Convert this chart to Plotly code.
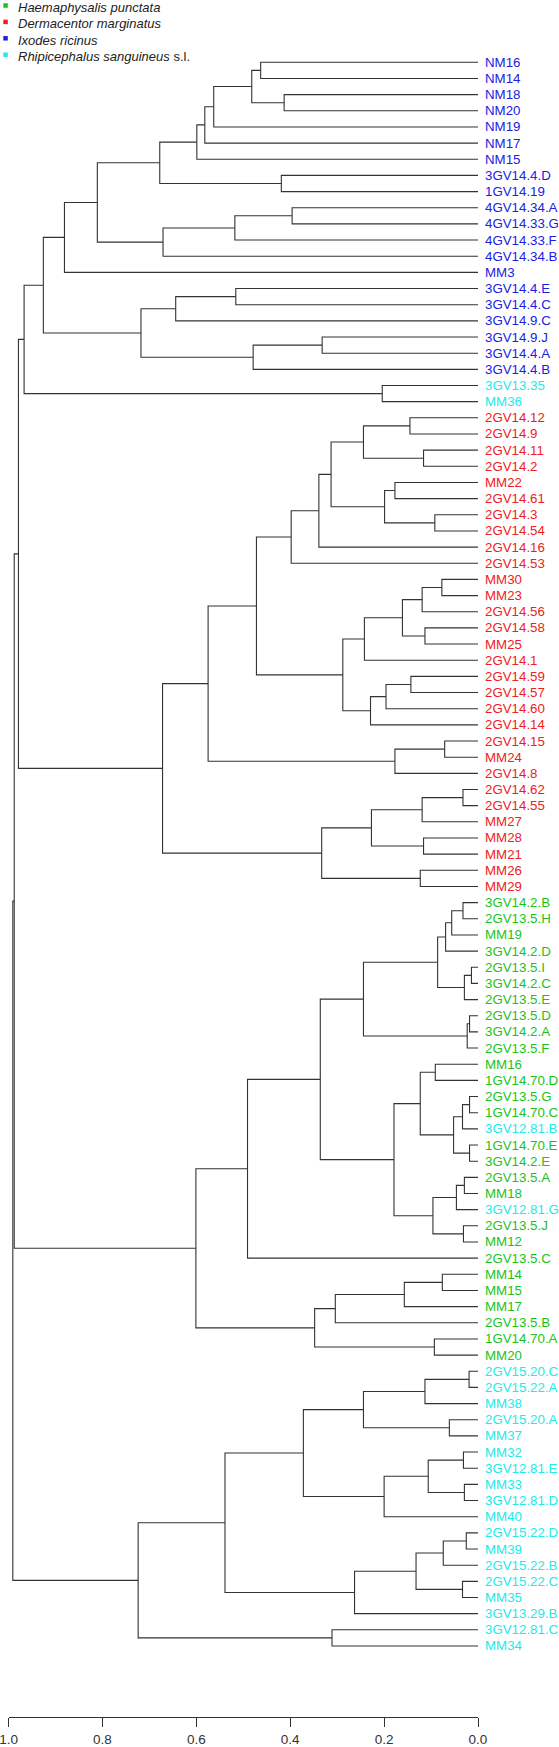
import plotly.graph_objects as go

# ---------------- data ----------------
leaf_order = [
    "NM16", "NM14", "NM18", "NM20", "NM19", "NM17", "NM15", "3GV14.4.D", "1GV14.19",
    "4GV14.34.A", "4GV14.33.G", "4GV14.33.F", "4GV14.34.B", "MM3", "3GV14.4.E", "3GV14.4.C",
    "3GV14.9.C", "3GV14.9.J", "3GV14.4.A", "3GV14.4.B", "3GV13.35", "MM36",
    "2GV14.12", "2GV14.9", "2GV14.11", "2GV14.2", "MM22", "2GV14.61", "2GV14.3", "2GV14.54",
    "2GV14.16", "2GV14.53", "MM30", "MM23", "2GV14.56", "2GV14.58", "MM25", "2GV14.1",
    "2GV14.59", "2GV14.57", "2GV14.60", "2GV14.14", "2GV14.15", "MM24", "2GV14.8",
    "2GV14.62", "2GV14.55", "MM27", "MM28", "MM21", "MM26", "MM29",
    "3GV14.2.B", "2GV13.5.H", "MM19", "3GV14.2.D", "2GV13.5.I", "3GV14.2.C", "2GV13.5.E",
    "2GV13.5.D", "3GV14.2.A", "2GV13.5.F", "MM16", "1GV14.70.D", "2GV13.5.G", "1GV14.70.C",
    "3GV12.81.B", "1GV14.70.E", "3GV14.2.E", "2GV13.5.A", "MM18", "3GV12.81.G", "2GV13.5.J",
    "MM12", "2GV13.5.C", "MM14", "MM15", "MM17", "2GV13.5.B", "1GV14.70.A", "MM20",
    "2GV15.20.C", "2GV15.22.A", "MM38", "2GV15.20.A", "MM37", "MM32", "3GV12.81.E", "MM33",
    "3GV12.81.D", "MM40", "2GV15.22.D", "MM39", "2GV15.22.B", "2GV15.22.C", "MM35",
    "3GV13.29.B", "3GV12.81.C", "MM34",
]

leaf_species = (
    ["I"] * 20 + ["R"] * 2 + ["D"] * 30
    + ["H"] * 14 + ["R"] + ["H"] * 4 + ["R"] + ["H"] * 9
    + ["R"] * 18
)

species_names = ["Haemaphysalis punctata", "Dermacentor marginatus",
                 "Ixodes ricinus", "Rhipicephalus sanguineus"]
species_codes = ["H", "D", "I", "R"]
species_suffix = ["", "", "", " s.l."]
species_colors = {"H": "#19c319", "D": "#f02020", "I": "#2020e0", "R": "#22eaea"}

# merges: (child_a, child_b, height); ints refer to earlier merges
merges = [
    ("NM16", "NM14", 0.463), ("NM18", "NM20", 0.413), (0, 1, 0.482), (2, "NM19", 0.563),
    (3, "NM17", 0.582), (4, "NM15", 0.599), ("3GV14.4.D", "1GV14.19", 0.419), (5, 6, 0.678),
    ("4GV14.34.A", "4GV14.33.G", 0.396), (8, "4GV14.33.F", 0.518), (9, "4GV14.34.B", 0.671),
    (7, 10, 0.811), (11, "MM3", 0.881), ("3GV14.4.E", "3GV14.4.C", 0.516),
    (13, "3GV14.9.C", 0.644), ("3GV14.9.J", "3GV14.4.A", 0.332), (15, "3GV14.4.B", 0.479),
    (14, 16, 0.718), (12, 17, 0.926), ("3GV13.35", "MM36", 0.204), (18, 19, 0.967),
    # 21
    ("2GV14.12", "2GV14.9", 0.145), ("2GV14.11", "2GV14.2", 0.116), (21, 22, 0.244),
    ("MM22", "2GV14.61", 0.177), ("2GV14.3", "2GV14.54", 0.092), (24, 25, 0.199),
    (23, 26, 0.313), (27, "2GV14.16", 0.339), (28, "2GV14.53", 0.398),
    ("MM30", "MM23", 0.077), (30, "2GV14.56", 0.119), ("2GV14.58", "MM25", 0.113),
    (31, 32, 0.161), (33, "2GV14.1", 0.242), ("2GV14.59", "2GV14.57", 0.143),
    (35, "2GV14.60", 0.196), (36, "2GV14.14", 0.229), (34, 37, 0.288), (29, 38, 0.472),
    ("2GV14.15", "MM24", 0.071), (40, "2GV14.8", 0.177), (39, 41, 0.575),
    ("2GV14.62", "2GV14.55", 0.032), (43, "MM27", 0.119), ("MM28", "MM21", 0.116),
    (44, 45, 0.227), ("MM26", "MM29", 0.123), (46, 47, 0.333), (42, 48, 0.672),
    (20, 49, 0.979),
    # 51
    ("3GV14.2.B", "2GV13.5.H", 0.032), (51, "MM19", 0.056), (52, "3GV14.2.D", 0.069),
    ("2GV13.5.I", "3GV14.2.C", 0.014), (54, "2GV13.5.E", 0.029), (53, 55, 0.086),
    ("2GV13.5.D", "3GV14.2.A", 0.018), (57, "2GV13.5.F", 0.023), (56, 58, 0.244),
    ("MM16", "1GV14.70.D", 0.091), ("2GV13.5.G", "1GV14.70.C", 0.018),
    (61, "3GV12.81.B", 0.033), ("1GV14.70.E", "3GV14.2.E", 0.018), (62, 63, 0.052),
    (60, 64, 0.123), ("2GV13.5.A", "MM18", 0.029), (66, "3GV12.81.G", 0.046),
    ("2GV13.5.J", "MM12", 0.031), (67, 68, 0.096), (65, 69, 0.179), (59, 70, 0.336),
    (71, "2GV13.5.C", 0.491), ("MM14", "MM15", 0.076), (73, "MM17", 0.157),
    (74, "2GV13.5.B", 0.304), ("1GV14.70.A", "MM20", 0.093), (75, 76, 0.348),
    (72, 77, 0.601), (50, 78, 0.988),
    # 80
    ("2GV15.20.C", "2GV15.22.A", 0.019), (80, "MM38", 0.113), ("2GV15.20.A", "MM37", 0.061),
    (81, 82, 0.244), ("MM32", "3GV12.81.E", 0.031), ("MM33", "3GV12.81.D", 0.029),
    (84, 85, 0.106), (86, "MM40", 0.200), (83, 87, 0.372), ("2GV15.22.D", "MM39", 0.025),
    (89, "2GV15.22.B", 0.074), ("2GV15.22.C", "MM35", 0.033), (90, 91, 0.132),
    (92, "3GV13.29.B", 0.263), (88, 93, 0.539), ("3GV12.81.C", "MM34", 0.311),
    (94, 95, 0.724), (79, 96, 0.991),
]

axis_ticks = [0.0, 0.2, 0.4, 0.6, 0.8, 1.0]

# ---------------- geometry ----------------
W, H = 559, 1747
px_h0, px_h1 = 478.0, 8.6          # pixel of height 0 and height 1
first_leaf_px, leaf_step = 62.3, 16.16
axis_px = 1717.0

ppu = px_h0 - px_h1
x_range = [1 + px_h1 / ppu, -(W - px_h0) / ppu]
y_range = [(H - first_leaf_px) / leaf_step, -first_leaf_px / leaf_step]

leaf_pos = {name: i for i, name in enumerate(leaf_order)}
node_y, node_h = [], []
xs, ys = [], []


def child(c):
    if isinstance(c, str):
        return leaf_pos[c], 0.0
    return node_y[c], node_h[c]


for a, b, h in merges:
    ya, ha = child(a)
    yb, hb = child(b)
    xs += [ha, h, h, hb, None]
    ys += [ya, ya, yb, yb, None]
    node_y.append((ya + yb) / 2)
    node_h.append(h)

fig = go.Figure()
fig.add_trace(go.Scatter(x=xs, y=ys, mode="lines",
                         line=dict(color="#333333", width=1.1),
                         hoverinfo="skip", showlegend=False))
# invisible trace carrying the bottom scale axis
fig.add_trace(go.Scatter(x=axis_ticks, y=[-50] * len(axis_ticks), xaxis="x2", yaxis="y",
                         mode="markers", marker=dict(opacity=0), hoverinfo="skip",
                         showlegend=False))

font_family = "Liberation Sans, Arial, sans-serif"
annotations = []
for name, sp in zip(leaf_order, leaf_species):
    annotations.append(dict(x=0, y=leaf_pos[name], xref="x", yref="y", text=name,
                            xanchor="left", yanchor="middle", xshift=5, showarrow=False,
                            font=dict(family=font_family, size=13.3,
                                      color=species_colors[sp])))

shapes = []
legend_text_x = 16.0
legend_row0, legend_step = 7.5, 16.4
for k, (nm, code, suf) in enumerate(zip(species_names, species_codes, species_suffix)):
    cy = legend_row0 + k * legend_step
    annotations.append(dict(x=legend_text_x / W, y=1 - cy / H, xref="paper", yref="paper",
                            text=f"<i>{nm}</i>{suf}", xanchor="left", yanchor="middle",
                            showarrow=False,
                            font=dict(family=font_family, size=13, color="#222222")))
    sy = cy - 2.0
    shapes.append(dict(type="rect", xref="paper", yref="paper",
                       x0=3.3 / W, x1=7.8 / W, y0=1 - (sy - 2.25) / H, y1=1 - (sy + 2.25) / H,
                       line=dict(width=0), fillcolor=species_colors[code]))

fig.update_layout(
    width=W, height=H,
    margin=dict(l=0, r=0, t=0, b=0, autoexpand=False),
    paper_bgcolor="white", plot_bgcolor="rgba(0,0,0,0)",
    xaxis=dict(domain=[0, 1], range=x_range, visible=False, fixedrange=True,
               automargin=False),
    yaxis=dict(domain=[0, 1], range=y_range, visible=False, fixedrange=True,
               automargin=False),
    xaxis2=dict(domain=[px_h1 / W, px_h0 / W], range=[1, 0], anchor="free",
                position=(H - axis_px) / H, showline=True, linecolor="#333333",
                linewidth=1, ticks="outside", ticklen=9, tickwidth=1, tickcolor="#333333",
                tickvals=axis_ticks, tickformat=".1f", showgrid=False, zeroline=False,
                tickfont=dict(family=font_family, size=13.5, color="#333333"),
                ticklabelstandoff=1, ticklabeloverflow="allow", fixedrange=True,
                automargin=False),
    annotations=annotations,
    shapes=shapes,
    showlegend=False,
)

fig.write_html("out.html", config={"displayModeBar": False},
               post_script="document.body.style.margin='0';")
